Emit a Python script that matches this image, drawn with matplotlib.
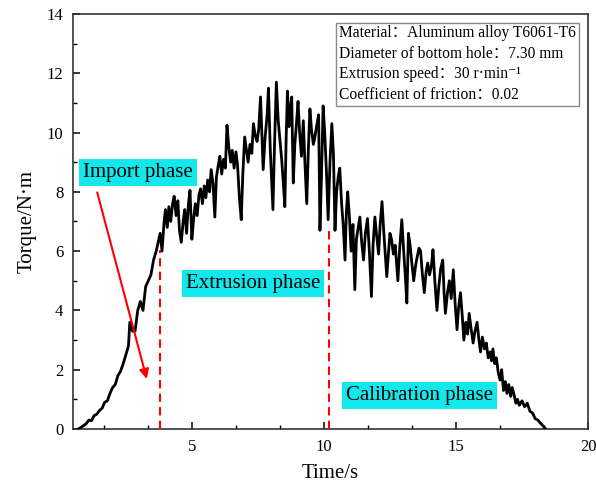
import matplotlib
matplotlib.use("Agg")
import matplotlib.pyplot as plt
from matplotlib.patches import Rectangle

plt.rcParams['font.family'] = ['Liberation Serif', 'DejaVu Serif', 'Noto Sans CJK SC']

# torque signal
time = [0.70, 0.85, 1.0, 1.1, 1.2, 1.3, 1.4, 1.5, 1.6, 1.7, 1.8, 1.9, 2.0, 2.1, 2.2, 2.3,
        2.4, 2.5, 2.6, 2.65, 2.75, 2.85, 2.95, 3.05, 3.15, 3.25, 3.35, 3.45, 3.55, 3.65, 3.75,
        3.8, 3.87, 3.95, 4.0, 4.07, 4.13, 4.2, 4.27, 4.33, 4.4, 4.47, 4.53, 4.6, 4.67, 4.73,
        4.8, 4.87, 4.93, 5.0, 5.07, 5.13, 5.2, 5.27, 5.33, 5.4, 5.47, 5.53, 5.6, 5.67, 5.73,
        5.8, 5.87, 5.93, 6.0, 6.06, 6.13, 6.2, 6.27, 6.33, 6.4, 6.47, 6.53, 6.6, 6.67, 6.73,
        6.8, 6.87, 6.93, 7.0, 7.07, 7.13, 7.2, 7.27, 7.33, 7.4, 7.47, 7.53, 7.6, 7.67, 7.7,
        7.77, 7.85, 7.9, 7.97, 8.03, 8.07, 8.13, 8.2, 8.27, 8.33, 8.4, 8.47, 8.52, 8.57, 8.62,
        8.68, 8.73, 8.78, 8.84, 8.9, 8.96, 9.02, 9.08, 9.15, 9.22, 9.28, 9.35, 9.41, 9.47,
        9.53, 9.6, 9.65, 9.72, 9.8, 9.85, 9.91, 9.97, 10.03, 10.1, 10.16, 10.23, 10.3, 10.36,
        10.42, 10.48, 10.54, 10.6, 10.67, 10.73, 10.8, 10.85, 10.9, 10.97, 11.03, 11.1, 11.17,
        11.23, 11.3, 11.36, 11.43, 11.5, 11.57, 11.65, 11.72, 11.8, 11.86, 11.93, 12.0, 12.07,
        12.13, 12.2, 12.27, 12.33, 12.38, 12.45, 12.5, 12.56, 12.63, 12.7, 12.76, 12.8, 12.87,
        12.95, 13.02, 13.08, 13.14, 13.2, 13.27, 13.33, 13.4, 13.47, 13.53, 13.6, 13.66, 13.73,
        13.8, 13.87, 13.93, 14.0, 14.07, 14.13, 14.2, 14.28, 14.35, 14.42, 14.5, 14.55, 14.6,
        14.68, 14.75, 14.82, 14.9, 14.97, 15.04, 15.1, 15.17, 15.24, 15.3, 15.37, 15.44, 15.5,
        15.57, 15.65, 15.72, 15.8, 15.87, 15.93, 16.0, 16.08, 16.15, 16.22, 16.3, 16.35, 16.4,
        16.47, 16.53, 16.6, 16.67, 16.73, 16.8, 16.87, 16.93, 17.0, 17.07, 17.13, 17.2, 17.27,
        17.33, 17.4, 17.5, 17.6, 17.7, 17.8, 17.9, 18.0, 18.1, 18.2, 18.3, 18.4]
torque = [0.0, 0.08, 0.18, 0.3, 0.28, 0.45, 0.5, 0.62, 0.7, 0.9, 0.95, 1.2, 1.4, 1.5, 1.8, 1.95,
          2.2, 2.5, 2.8, 3.6, 3.3, 3.3, 4.0, 4.3, 4.0, 4.8, 5.0, 5.2, 5.7, 6.0, 6.4,
          6.6, 6.0, 7.0, 7.4, 6.8, 7.5, 7.0, 7.6, 7.85, 7.2, 7.7, 6.7, 6.3, 7.0, 7.4,
          6.6, 7.6, 8.05, 6.4, 7.1, 7.6, 7.2, 7.9, 8.1, 7.6, 8.2, 7.8, 8.4, 8.0, 8.75,
          8.3, 7.15, 8.5, 8.9, 9.2, 8.6, 9.1, 8.8, 10.25, 9.5, 9.0, 9.4, 8.8, 9.35, 8.9,
          7.8, 7.06, 8.6, 9.85, 9.4, 9.0, 9.6, 9.3, 10.3, 9.9, 9.7, 10.1, 11.2, 9.5, 8.75,
          9.8, 10.6, 11.5, 9.4, 8.2, 7.4, 9.6, 11.7, 10.4, 9.8, 9.1, 8.2, 7.5, 9.8, 11.4,
          10.2, 10.8, 11.2, 8.3, 9.6, 10.3, 11.05, 10.0, 9.2, 10.4, 9.0, 7.6, 9.4, 10.8,
          10.1, 9.6, 9.8, 10.2, 10.6, 6.7, 8.6, 10.9, 10.0, 8.6, 7.06, 9.0, 10.3, 9.3,
          6.7, 8.0, 8.5, 8.8, 7.6, 6.9, 5.7, 7.3, 8.0, 7.1, 6.0, 6.9, 4.7,
          6.4, 6.8, 7.15, 6.3, 5.7, 6.6, 7.1, 6.0, 4.47, 6.2, 7.15, 6.5, 5.9,
          6.9, 7.67, 6.6, 5.8, 5.14, 6.0, 6.6, 6.4, 5.9, 6.2, 5.5, 5.0, 6.1,
          7.06, 6.0, 5.2, 4.25, 6.6, 6.15, 5.6, 5.0, 5.5, 5.8, 6.1, 6.0, 5.2,
          4.6, 5.3, 5.6, 5.2, 5.5, 6.05, 5.0, 4.0, 4.8, 5.4, 5.7, 4.6, 3.9,
          4.6, 5.0, 4.4, 5.37, 4.2, 3.35, 4.1, 4.6, 3.8, 3.0, 3.6, 3.2, 3.9,
          3.4, 2.9, 3.3, 3.6, 3.0, 2.6, 3.1, 2.7, 2.9, 2.4, 2.6, 2.3, 2.7,
          2.2, 2.4, 1.9, 1.65, 2.0, 1.3, 1.6, 1.2, 1.5, 1.1, 1.4, 1.15, 0.87,
          1.0, 0.8, 0.95, 0.75, 0.87, 0.6, 0.54, 0.35, 0.3, 0.2, 0.1, 0.0]

phase_bounds = [3.81, 10.19]
bound_tops = [6.05, 6.7]
phase_names = ["Import phase", "Extrusion phase", "Calibration phase"]
phase_pos = [(2.97, 8.65), (7.31, 4.9), (13.62, 1.13)]
info_lines = ["Material：Aluminum alloy T6061-T6",
              "Diameter of bottom hole：7.30 mm",
              "Extrusion speed：30 r·min⁻¹",
              "Coefficient of friction：0.02"]

fig = plt.figure(figsize=(5.96, 4.91), dpi=100)
ax = fig.add_axes([0.1225, 0.1263, 0.8641, 0.8452])

ax.plot(time, torque, color='black', lw=2.0, zorder=3)

for xb, top in zip(phase_bounds, bound_tops):
    ax.plot([xb, xb], [0, top], color='red', lw=1.5, ls=(0, (4, 2.5)), zorder=4)

for name, (px, py) in zip(phase_names, phase_pos):
    ax.text(px, py, name, fontsize=15, ha='center', va='center', zorder=5,
            bbox=dict(boxstyle='square,pad=0.2', fc='#12e8ec', ec='none'))

ax.annotate("", xy=(3.32, 1.6), xytext=(1.39, 8.07),
            arrowprops=dict(arrowstyle='-|>', color='red', lw=1.5, mutation_scale=14),
            zorder=6)

ax.add_patch(Rectangle((0.511, 0.778), 0.471, 0.2, transform=ax.transAxes,
                       fill=False, ec='#8a8a8a', lw=1.0, zorder=5))
for i, line in enumerate(info_lines):
    ax.text(0.516, 0.954 - i * 0.0495, line, transform=ax.transAxes, fontsize=11.2,
            ha='left', va='center', zorder=6)

ax.set_xlim(0.5, 20)
ax.set_ylim(0, 14)
ax.set_xticks([5, 10, 15, 20])
ax.set_xticks([1.6667, 3.3333, 6.6667, 8.3333, 11.6667, 13.3333, 16.6667, 18.3333], minor=True)
ax.set_yticks(range(0, 15, 2))
ax.set_yticks(range(1, 14, 2), minor=True)
ax.tick_params(direction='in', which='major', length=5, width=1.1, labelsize=12, pad=7)
ax.tick_params(direction='in', which='minor', length=3, width=1.0)
for s in ax.spines.values():
    s.set_linewidth(1.2)
    s.set_color('#333333')

ax.set_xlabel("Time/s", fontsize=15, labelpad=7)
ax.set_ylabel("Torque/N·m", fontsize=15, labelpad=7)

fig.savefig("out.png", dpi=100)
